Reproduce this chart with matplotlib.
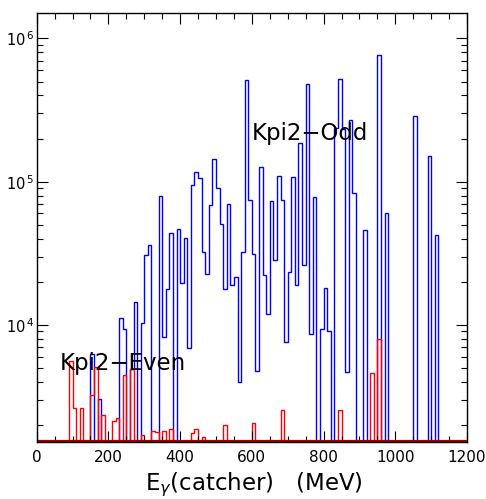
import numpy as np
import matplotlib
matplotlib.use("Agg")
import matplotlib.pyplot as plt
from matplotlib.ticker import MultipleLocator, LogLocator, NullFormatter, FuncFormatter

plt.rcParams['font.family'] = ['DejaVu Sans']
plt.rcParams['mathtext.fontset'] = 'dejavusans'

# ---- data: 10 MeV bins, lower bin edge (MeV) -> counts ----
bin_width = 10
n_bins = 120

odd_lo = [150, 170, 230, 240, 260, 270, 290, 300, 310, 340, 350, 360, 370,
          390, 400, 410, 420, 430, 440, 450, 460, 470, 480, 490, 500, 510,
          520, 530, 540, 550, 560, 570, 580, 590, 600, 610, 620, 630, 640,
          650, 660, 670, 680, 690, 700, 710, 720, 730, 740, 750, 760, 770,
          790, 800, 810, 830, 840, 850, 860, 870, 880, 910, 950, 970, 1050,
          1090, 1110]
odd_counts = [6240, 3040, 11100, 9300, 4900, 14500, 10300, 30800, 36100,
              78900, 8280, 17700, 44000, 46500, 19700, 40200, 6870, 94600,
              116000, 106000, 32400, 22500, 68400, 145000, 90000, 50300,
              17700, 69500, 19000, 21700, 4000, 32400, 511000, 74100, 31100,
              4770, 126500, 22200, 12000, 72800, 28400, 109000, 74500, 7550,
              23500, 107000, 19000, 187000, 26200, 478000, 8590, 77600, 9300,
              18200, 9100, 236000, 518000, 234000, 4710, 270000, 83000, 45900,
              766000, 60700, 287000, 152000, 42200]

even_lo = [90, 100, 120, 150, 160, 180, 210, 220, 240, 260, 290, 320, 330,
           350, 370, 430, 440, 460, 520, 600, 680, 840, 930, 950]
even_counts = [5600, 2640, 2620, 3240, 5110, 2340, 2130, 2230, 4500, 4900,
               1700, 1810, 1800, 1830, 1870, 1770, 1880, 1660, 2000, 2060,
               2550, 2550, 4650, 7940]

odd_label = "Kpi2\u2212Odd"
even_label = "Kpi2\u2212Even"
x_label = r"E$_{\gamma}$(catcher)   (MeV)"


def fill_bins(lo, counts):
    h = np.full(n_bins, 1e-3)
    for e, c in zip(lo, counts):
        h[e // bin_width] = c
    return h


edges = np.arange(0, bin_width * n_bins + 1, bin_width)
h_odd = fill_bins(odd_lo, odd_counts)
h_even = fill_bins(even_lo, even_counts)

fig = plt.figure(figsize=(4.86, 4.99), dpi=100)
ax = fig.add_axes([0.0755, 0.1148, 0.8855, 0.8597])

ymin, ymax = 1531, 1.51e6
ax.stairs(h_odd, edges, color="#0000ff", lw=1.0, baseline=1e-3)
ax.stairs(h_even, edges, color="#ff0000", lw=1.0, baseline=1e-3)
ax.axhline(ymin * 1.004, color="#a00000", lw=1.6)

ax.set_yscale("log")
ax.set_xlim(0, 1200)
ax.set_ylim(ymin, ymax)

ax.xaxis.set_major_locator(MultipleLocator(200))
ax.xaxis.set_minor_locator(MultipleLocator(50))
ax.yaxis.set_major_locator(LogLocator(base=10, numticks=10))
ax.yaxis.set_minor_locator(LogLocator(base=10, subs=np.arange(2, 10), numticks=10))
ax.yaxis.set_minor_formatter(NullFormatter())
ax.yaxis.set_major_formatter(
    FuncFormatter(lambda v, p: "10$^{\\,%d}$" % round(np.log10(v))))

ax.tick_params(which="both", direction="in", top=True, right=True, width=0.8)
ax.tick_params(which="major", length=8)
ax.tick_params(which="minor", length=4)
ax.tick_params(axis="x", pad=6, labelsize=11)
ax.tick_params(axis="y", pad=2, labelsize=10.5)
for s in ax.spines.values():
    s.set_linewidth(1.0)

fig.text(145 / 486, 1 - 490 / 499, x_label, fontsize=16.5,
         ha="left", va="baseline")

ax.text(601, 1.95e5, odd_label, fontsize=16.5, va="baseline")
ax.text(65, 4850, even_label, fontsize=16.5, va="baseline")

fig.savefig("out.png", dpi=100)
